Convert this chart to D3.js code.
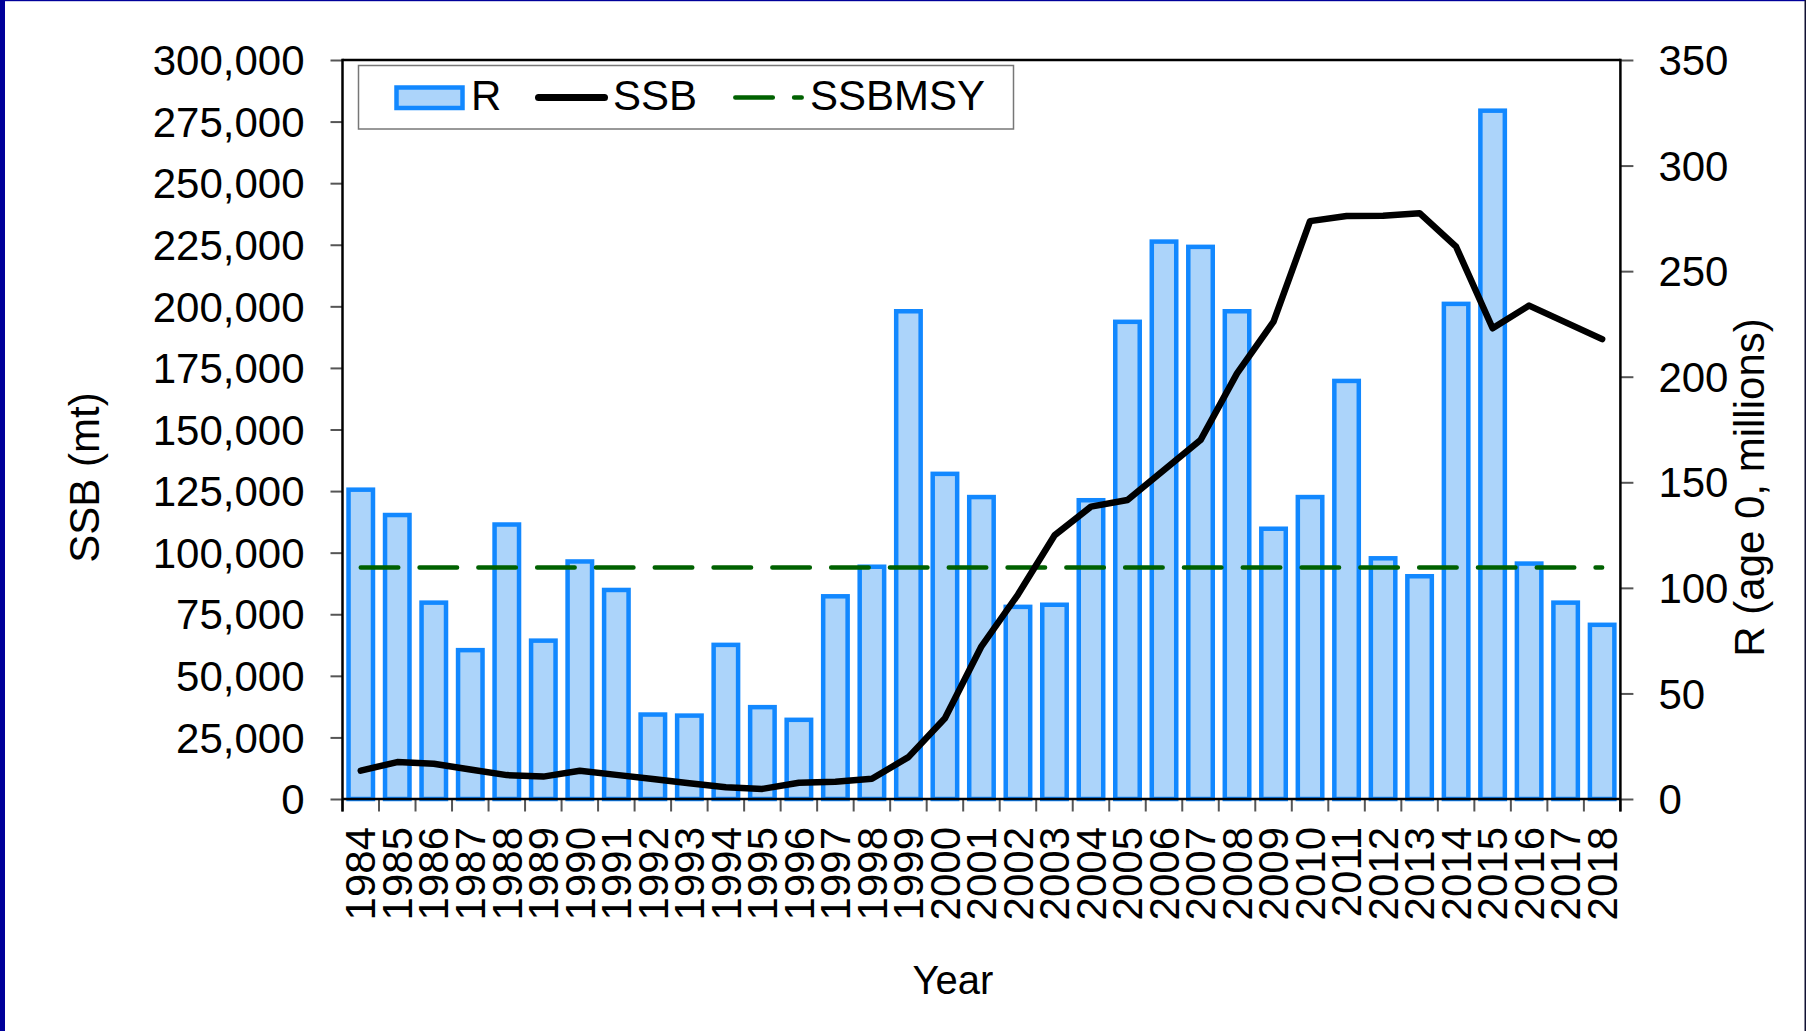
<!DOCTYPE html>
<html>
<head>
<meta charset="utf-8">
<script src="https://cdn.jsdelivr.net/npm/d3@7"></script>
<style>
  html, body { margin: 0; padding: 0; background: #ffffff; }
  svg { display: block; }
  text { font-family: "Liberation Sans", Arial, sans-serif; fill: #000; }
</style>
</head>
<body>
<svg id="chart" width="1806" height="1031"></svg>
<script>
// ---- data ----
const years = [1984,1985,1986,1987,1988,1989,1990,1991,1992,1993,1994,1995,1996,1997,1998,1999,
  2000,2001,2002,2003,2004,2005,2006,2007,2008,2009,2010,2011,2012,2013,2014,2015,2016,2017,2018];
const recruits = [146.5,134.5,93,70.5,130,75,112.5,99,40,39.5,73,43.5,37.5,96,110,231,
  154,143,91,92,141.5,226,264,261.5,231,128,143,198,114,105.5,234.5,326,111.5,93,82.5];
const ssb = [11500,15000,14300,12000,9700,9100,11500,9800,8100,6400,4800,4100,6600,7000,8200,17000,
  32800,62000,83000,107000,118700,121400,133600,145700,172800,193800,234600,236700,236800,237800,224200,191100,200300,193500,186700];
const ssbMsy = 94000;
const leftTicks = [0,25000,50000,75000,100000,125000,150000,175000,200000,225000,250000,275000,300000];
const rightTicks = [0,50,100,150,200,250,300,350];
const legendLabels = ["R","SSB","SSBMSY"];
const axisTitles = {left: "SSB (mt)", right: "R (age 0, millions)", bottom: "Year"};

// ---- layout ----
const W = 1806, H = 1031;
const plot = {left: 342.5, right: 1620.4, top: 60, bottom: 799};
const svg = d3.select("#chart");

// page frame
svg.append("rect").attr("x",0).attr("y",0).attr("width",W).attr("height",H).attr("fill","#ffffff");
svg.append("rect").attr("x",0).attr("y",0).attr("width",5).attr("height",H).attr("fill","#00009a");
svg.append("rect").attr("x",0).attr("y",0).attr("width",W).attr("height",1.2).attr("fill","#00009a");
svg.append("rect").attr("x",W-1.5).attr("y",0).attr("width",1.5).attr("height",H).attr("fill","#111133");

const x = d3.scaleBand().domain(years).range([plot.left, plot.right]).padding(0);
const yL = d3.scaleLinear().domain([0,300000]).range([plot.bottom, plot.top]);
const yR = d3.scaleLinear().domain([0,350]).range([plot.bottom, plot.top]);
const bw = x.bandwidth();
const barW = bw * 0.67;

// bars
const data = years.map((yr,i) => ({year: yr, r: recruits[i], ssb: ssb[i]}));
svg.append("g").selectAll("rect").data(data).join("rect")
  .attr("x", d => x(d.year) + (bw - barW)/2)
  .attr("y", d => yR(d.r))
  .attr("width", barW)
  .attr("height", d => yR(0) - yR(d.r))
  .attr("fill", "#acd4fa")
  .attr("stroke", "#1288ff")
  .attr("stroke-width", 4.5);

// SSBMSY dashed line
svg.append("line")
  .attr("x1", x(years[0]) + bw/2).attr("x2", x(years[years.length-1]) + bw/2)
  .attr("y1", yL(ssbMsy)).attr("y2", yL(ssbMsy))
  .attr("stroke", "#006100").attr("stroke-width", 4.5)
  .attr("stroke-dasharray", "37.5,21.3").attr("stroke-linecap", "round");

// SSB line
const line = d3.line().x(d => x(d.year) + bw/2).y(d => yL(d.ssb));
svg.append("path").datum(data).attr("d", line)
  .attr("fill","none").attr("stroke","#000").attr("stroke-width",6.5)
  .attr("stroke-linejoin","round").attr("stroke-linecap","round");

// axes
const leftAxis = d3.axisLeft(yL).tickValues(leftTicks).tickFormat(d3.format(",")).tickSize(12).tickPadding(26);
const gL = svg.append("g").attr("transform", `translate(${plot.left},0)`).call(leftAxis);
const rightAxis = d3.axisRight(yR).tickValues(rightTicks).tickSize(13).tickPadding(25);
const gR = svg.append("g").attr("transform", `translate(${plot.right},0)`).call(rightAxis);
[gL, gR].forEach(g => {
  g.select(".domain").remove();
  g.selectAll(".tick line").attr("stroke","#555").attr("stroke-width",2);
  g.selectAll(".tick text").attr("font-size",42).attr("font-family",'"Liberation Sans", Arial, sans-serif').attr("fill","#000").attr("dy","0.35em");
});

// x ticks at band boundaries
const bounds = years.map(yr => x(yr)).concat([plot.right]);
svg.append("g").selectAll("line").data(bounds).join("line")
  .attr("x1", d => d).attr("x2", d => d)
  .attr("y1", plot.bottom).attr("y2", plot.bottom + 12.5)
  .attr("stroke","#555").attr("stroke-width",2);

// year labels
const xAxis = d3.axisBottom(x).tickSize(0).tickPadding(0);
const gX = svg.append("g").attr("transform", `translate(0,${plot.bottom})`).call(xAxis);
gX.select(".domain").remove();
gX.selectAll(".tick text")
  .attr("font-size",42).attr("font-family",'"Liberation Sans", Arial, sans-serif').attr("fill","#000")
  .attr("text-anchor","end")
  .attr("transform","translate(0,28) rotate(-90)")
  .attr("x",0).attr("y",0).attr("dy","0.35em");

// frame lines
svg.append("line").attr("x1",plot.left).attr("x2",plot.right).attr("y1",plot.top).attr("y2",plot.top)
  .attr("stroke","#000").attr("stroke-width",2.5);
svg.append("line").attr("x1",plot.left).attr("x2",plot.left).attr("y1",plot.top-1.2).attr("y2",plot.bottom+12.5)
  .attr("stroke","#000").attr("stroke-width",2.5);
svg.append("line").attr("x1",plot.right).attr("x2",plot.right).attr("y1",plot.top-1.2).attr("y2",plot.bottom+12.5)
  .attr("stroke","#000").attr("stroke-width",2.5);
svg.append("line").attr("x1",plot.left).attr("x2",plot.right).attr("y1",plot.bottom).attr("y2",plot.bottom)
  .attr("stroke","#000").attr("stroke-width",2.5);

// axis titles
svg.append("text").attr("transform","translate(99,477.5) rotate(-90)")
  .attr("text-anchor","middle").attr("font-size",42).text(axisTitles.left);
svg.append("text").attr("transform","translate(1764,487.5) rotate(-90)")
  .attr("text-anchor","middle").attr("font-size",42).text(axisTitles.right);
svg.append("text").attr("x",953).attr("y",994)
  .attr("text-anchor","middle").attr("font-size",40).text(axisTitles.bottom);

// legend
const lg = svg.append("g");
lg.append("rect").attr("x",358.5).attr("y",65.5).attr("width",655).attr("height",63.5)
  .attr("fill","#fff").attr("stroke","#777").attr("stroke-width",1.5);
lg.append("rect").attr("x",396.5).attr("y",87.5).attr("width",66).attr("height",20.5)
  .attr("fill","#acd4fa").attr("stroke","#1288ff").attr("stroke-width",4.5);
lg.append("text").attr("x",471).attr("y",110).attr("font-size",42).text(legendLabels[0]);
lg.append("line").attr("x1",538.5).attr("x2",604.5).attr("y1",97.5).attr("y2",97.5)
  .attr("stroke","#000").attr("stroke-width",7).attr("stroke-linecap","round");
lg.append("text").attr("x",613).attr("y",110).attr("font-size",42).text(legendLabels[1]);
lg.append("line").attr("x1",735.3).attr("x2",801.7).attr("y1",97.5).attr("y2",97.5)
  .attr("stroke","#006100").attr("stroke-width",4.5).attr("stroke-linecap","round")
  .attr("stroke-dasharray","37.5,21.3");
lg.append("text").attr("x",810).attr("y",110).attr("font-size",42).text(legendLabels[2]);
</script>
</body>
</html>
